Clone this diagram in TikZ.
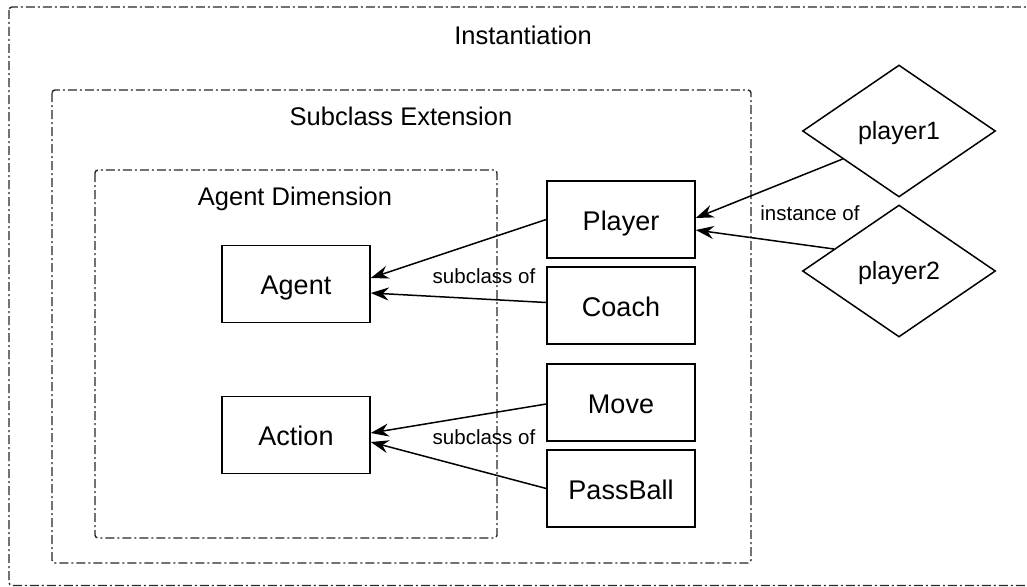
\documentclass[tikz,border=0pt]{standalone}
\usepackage{fontspec}
\setmainfont{Liberation Sans}
\usetikzlibrary{shapes.geometric,arrows.meta,calc}
\begin{document}
\begin{tikzpicture}[x=1pt,y=-1pt,
  frame/.style={draw=black!85, line width=1.4pt, dash pattern=on 9pt off 3pt on 2pt off 3pt, rounded corners=3pt},
  cls/.style={draw, line width=1.5pt, minimum width=148pt, minimum height=77pt, inner sep=0pt, font=\fontsize{27}{30}\selectfont, text height=25.5pt, text depth=4pt},
  inst/.style={draw, diamond, shape aspect=1.46, line width=1.5pt, minimum width=193pt, minimum height=132pt, inner sep=0pt, font=\fontsize{25}{30}\selectfont, text height=21pt, text depth=4pt},
  title/.style={font=\fontsize{25.5}{30}\selectfont, text height=21pt, text depth=4pt},
  elabel/.style={font=\fontsize{20.5}{24}\selectfont, text height=17pt, text depth=4pt},
  rel/.style={draw, line width=1.5pt, -{Stealth[length=18pt,width=13pt,inset=6pt]}}
]
\clip (0,0) rectangle (1027,586);
% frames
\draw[frame] (9,7) rectangle (1045,585.5);
\draw[frame] (52,90) rectangle (751,563);
\draw[frame] (95,170) rectangle (497,538);
\node[title] (tinst) at (523,36) {Instantiation};
\node[title] (tsub) at (401,117) {Subclass Extension};
\node[title] (tagd) at (295,197) {Agent Dimension};
% classes
\node[cls] (agent) at (296,284) {Agent};
\node[cls] (action) at (296,435) {Action};
\node[cls] (player) at (621,219.5) {Player};
\node[cls] (coach) at (621,305.5) {Coach};
\node[cls] (move) at (621,402.5) {Move};
\node[cls] (passball) at (621,488.5) {PassBall};
% instances
\node[inst] (p1) at (899,131) {player1};
\node[inst] (p2) at (899,271) {player2};
% relations
\draw[rel] (player.west) -- ([yshift=6pt]agent.east);
\draw[rel] ([yshift=3pt]coach.west) -- ([yshift=-9pt]agent.east);
\draw[rel] ([yshift=-1.5pt]move.west) -- ([yshift=2pt]action.east);
\draw[rel] (passball.west) -- ([yshift=-7pt]action.east);
\draw[rel] ($(p1.west)!0.42!(p1.south)$) -- ([yshift=1.5pt]player.east);
\draw[rel] ($(p2.west)!0.33!(p2.north)$) -- ([yshift=-10.5pt]player.east);
% labels
\node[elabel] (l1) at (484,277) {subclass of};
\node[elabel] (l2) at (484,438) {subclass of};
\node[elabel] (l3) at (810,214) {instance of};
\end{tikzpicture}
\end{document}
